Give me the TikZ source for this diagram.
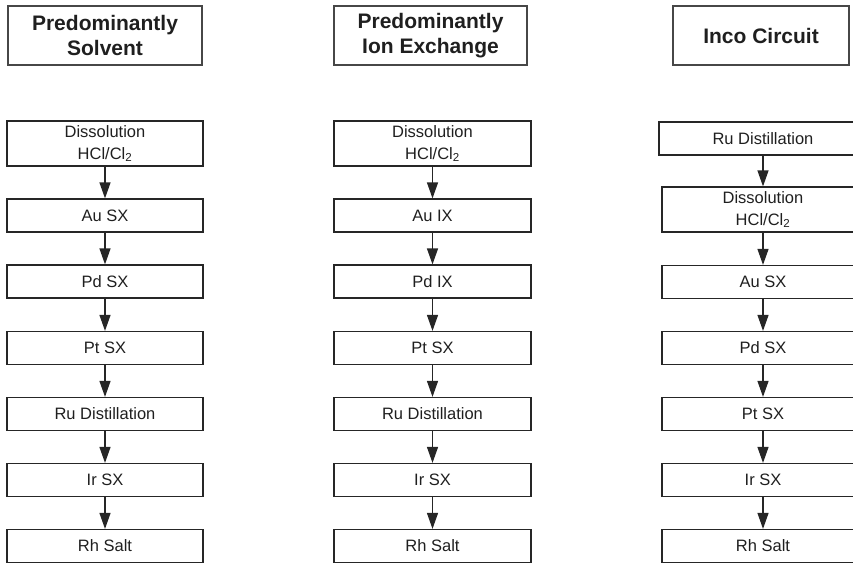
\documentclass[tikz,border=0pt]{standalone}
\usepackage{fontspec}
\setmainfont{Liberation Sans}
\usetikzlibrary{arrows.meta}
\begin{document}
\begin{tikzpicture}[x=1pt,y=-1pt,
  stage/.style={draw=black!85, line width=1.2pt, inner sep=0pt, align=center,
    text=black!88, minimum height=33pt, font=\fontsize{16.5}{22}\selectfont},
  tall/.style={minimum height=45pt},
  head/.style={draw=black!72, line width=1.3pt, inner sep=0pt, align=center,
    text=black!88, minimum height=59pt, font=\fontsize{21}{25}\selectfont\bfseries},
  flow/.style={line width=1.2pt, draw=black!85, -{Triangle[length=16pt,width=11pt]}}]
\useasboundingbox (0,0) rectangle (853,563);
\clip (0,0) rectangle (853,563);

% ---- column 1: predominantly solvent ----
\node[head, minimum width=194pt] (h1) at (105,35.5) {Predominantly\\Solvent};
\node[stage, tall, minimum width=196pt] (a1) at (105,143.5) {Dissolution\\HCl/Cl\textsubscript{2}};
\node[stage, minimum width=196pt] (a2) at (105,215.5) {Au SX};
\node[stage, minimum width=196pt] (a3) at (105,281.5) {Pd SX};
\node[stage, minimum width=196pt] (a4) at (105,348) {Pt SX};
\node[stage, minimum width=196pt] (a5) at (105,414) {Ru Distillation};
\node[stage, minimum width=196pt] (a6) at (105,480) {Ir SX};
\node[stage, minimum width=196pt] (a7) at (105,546) {Rh Salt};
\foreach \i/\j in {a1/a2,a2/a3,a3/a4,a4/a5,a5/a6,a6/a7}
  \draw[flow] (\i.south) -- (\j.north);

% ---- column 2: predominantly ion exchange ----
\node[head, minimum width=193pt] (h2) at (430.5,35.5) {Predominantly\\Ion Exchange};
\node[stage, tall, minimum width=197pt] (b1) at (432.5,143.5) {Dissolution\\HCl/Cl\textsubscript{2}};
\node[stage, minimum width=197pt] (b2) at (432.5,215.5) {Au IX};
\node[stage, minimum width=197pt] (b3) at (432.5,281.5) {Pd IX};
\node[stage, minimum width=197pt] (b4) at (432.5,348) {Pt SX};
\node[stage, minimum width=197pt] (b5) at (432.5,414) {Ru Distillation};
\node[stage, minimum width=197pt] (b6) at (432.5,480) {Ir SX};
\node[stage, minimum width=197pt] (b7) at (432.5,546) {Rh Salt};
\foreach \i/\j in {b1/b2,b2/b3,b3/b4,b4/b5,b5/b6,b6/b7}
  \draw[flow] (\i.south) -- (\j.north);

% ---- column 3: Inco circuit ----
\node[head, minimum width=176pt] (h3) at (761,35.5) {Inco Circuit};
\node[stage, minimum width=208pt] (c1) at (763,138.5) {Ru Distillation};
\node[stage, tall, minimum width=202pt] (c2) at (763,209.5) {Dissolution\\HCl/Cl\textsubscript{2}};
\node[stage, minimum width=202pt] (c3) at (763,282) {Au SX};
\node[stage, minimum width=202pt] (c4) at (763,348) {Pd SX};
\node[stage, minimum width=202pt] (c5) at (763,414) {Pt SX};
\node[stage, minimum width=202pt] (c6) at (763,480) {Ir SX};
\node[stage, minimum width=202pt] (c7) at (763,546) {Rh Salt};
\foreach \i/\j in {c1/c2,c2/c3,c3/c4,c4/c5,c5/c6,c6/c7}
  \draw[flow] (\i.south) -- (\j.north);
\end{tikzpicture}
\end{document}
